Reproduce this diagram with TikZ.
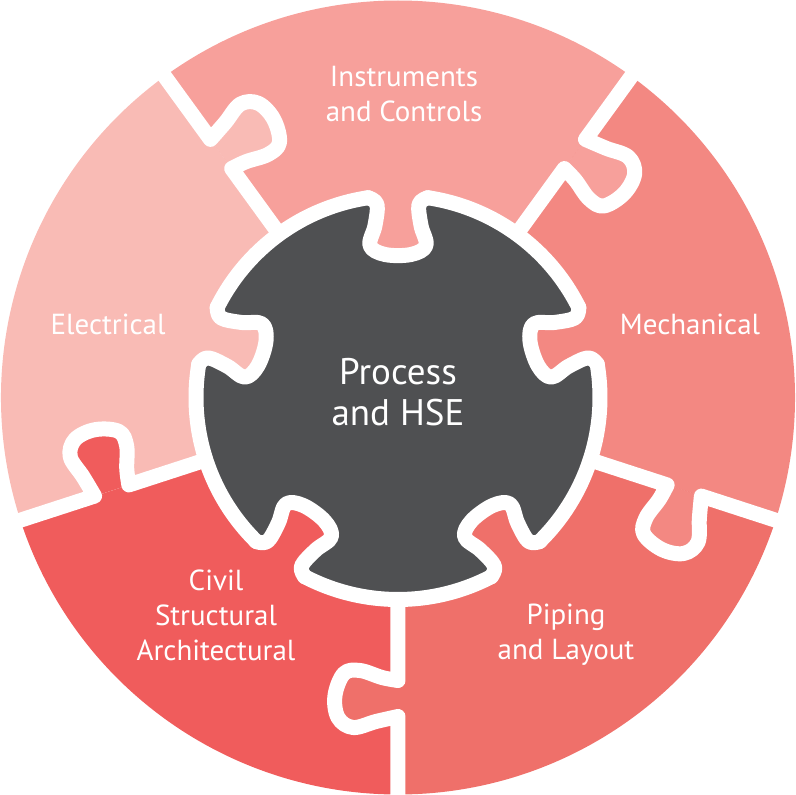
\documentclass[tikz,border=0pt]{standalone}
\usepackage{fontspec}
\setmainfont{PT Sans}
\definecolor{elec}{HTML}{F9BBB5}
\definecolor{instr}{HTML}{F7A09B}
\definecolor{mech}{HTML}{F38882}
\definecolor{pipe}{HTML}{EF706A}
\definecolor{civil}{HTML}{F05C5C}
\definecolor{hubc}{HTML}{4F5052}
\begin{document}
\begin{tikzpicture}[x=1pt,y=1pt,
  gap/.style={draw=white, line width=15pt, line join=round, line cap=round},
  label/.style={text=white, font=\fontsize{29}{35}\selectfont, align=center},
  hub/.style={text=white, font=\fontsize{37}{41}\selectfont, align=center}]
\useasboundingbox (-398,-397.5) rectangle (398,397.5);

% outer ring: five wedges
\foreach \a/\c in {90/instr,18/mech,-54/pipe,-126/civil,162/elec}{
  \fill[\c] (0,0) -- (\a-36:397) arc[start angle=\a-36, end angle=\a+36, radius=397] -- cycle;
}

% central disc
\fill[hubc] (0,0) circle[radius=202];

% tabs of the ring pieces reaching into the disc
\foreach \a/\c in {90/instr,18/mech,-54/pipe,-126/civil,162/elec}{
  \begin{scope}[rotate=\a]
    \fill[\c] (215,-30) -- plot[smooth,tension=.6] coordinates {(199.8,-29.9) (193,-21) (172,-23) (152,-28) (143,-13) (143,13) (152,28) (172,23) (193,21) (199.8,29.9)} -- (215,30) -- cycle;
  \end{scope}
}

% tabs across the radial joints
\foreach \b/\c in {126/elec,54/instr,-18/mech,-90/pipe,198/civil}{
  \begin{scope}[rotate=\b]
    \fill[\c] plot[smooth,tension=.6] coordinates {(283,0) (280,-16) (273,-38) (276,-54) (298,-63) (320,-60) (330,-45) (324,-22) (319,0)} -- cycle;
  \end{scope}
}

% white joints: radial cuts
\foreach \b in {126,54,-18,-90,198}{
  \begin{scope}[rotate=\b]
    \draw[gap] (203,0) -- plot[smooth,tension=.6] coordinates {(283,0) (280,-16) (273,-38) (276,-54) (298,-63) (320,-60) (330,-45) (324,-22) (319,0)} -- (410,0);
  \end{scope}
}

% white joints: ring around the disc
\foreach \a in {90,18,-54,-126,162}{
  \begin{scope}[rotate=\a]
    \draw[gap] plot[smooth,tension=.6] coordinates {(199.8,-29.9) (193,-21) (172,-23) (152,-28) (143,-13) (143,13) (152,28) (172,23) (193,21) (199.8,29.9)};
    \draw[gap] (8.5:202) arc[start angle=8.5, end angle=63.5, radius=202];
  \end{scope}
}

% labels
\node[hub] (hse) at (0,5.5) {Process\\and HSE};
\node[label] (ic) at (6,303.5) {Instruments\\and Controls};
\node[label] (el) at (-290,73.5) {Electrical};
\node[label] (me) at (292,73.5) {Mechanical};
\node[label] (csa) at (-182,-217.5) {Civil\\Structural\\Architectural};
\node[label] (pl) at (168,-237) {Piping\\and Layout};
\end{tikzpicture}
\end{document}
